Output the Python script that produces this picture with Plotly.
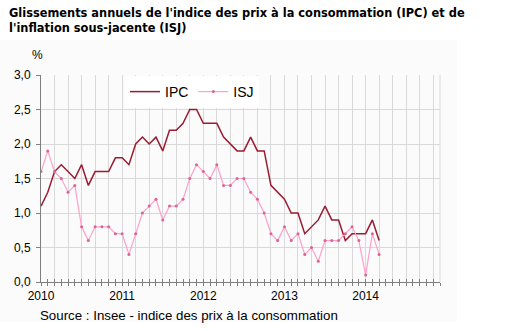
import plotly.graph_objects as go

# ---- data ----
months = [f"{y}-{m:02d}" for y in range(2010, 2015) for m in range(1, 13)]
year_labels = [m[:4] if m.endswith("-01") else "" for m in months]
y_ticks = [0, 0.5, 1.0, 1.5, 2.0, 2.5, 3.0]

ipc = [1.1, 1.3, 1.6, 1.7, 1.6, 1.5, 1.7, 1.4, 1.6, 1.6, 1.6, 1.8,
       1.8, 1.7, 2.0, 2.1, 2.0, 2.1, 1.9, 2.2, 2.2, 2.3, 2.5, 2.5,
       2.3, 2.3, 2.3, 2.1, 2.0, 1.9, 1.9, 2.1, 1.9, 1.9, 1.4, 1.3,
       1.2, 1.0, 1.0, 0.7, 0.8, 0.9, 1.1, 0.9, 0.9, 0.6, 0.7, 0.7,
       0.7, 0.9, 0.6]
isj = [1.6, 1.9, 1.6, 1.5, 1.3, 1.4, 0.8, 0.6, 0.8, 0.8, 0.8, 0.7,
       0.7, 0.4, 0.7, 1.0, 1.1, 1.2, 0.9, 1.1, 1.1, 1.2, 1.5, 1.7,
       1.6, 1.5, 1.7, 1.4, 1.4, 1.5, 1.5, 1.3, 1.2, 1.0, 0.7, 0.6,
       0.8, 0.6, 0.7, 0.4, 0.5, 0.3, 0.6, 0.6, 0.6, 0.7, 0.8, 0.6,
       0.1, 0.7, 0.4]

title = ("Glissements annuels de l'indice des prix à la consommation (IPC) et de"
         "<br>l'inflation sous-jacente (ISJ)")
source = "Source : Insee - indice des prix à la consommation"

W, H = 508, 331
L, R, T, B = 41, 68, 75, 49
PW, PH = W - L - R, H - T - B
n = len(months)


def px(x):
    return (x - L) / PW


def py(y):
    return (H - B - y) / PH


fig = go.Figure()
fig.add_trace(go.Scatter(x=months[:len(ipc)], y=ipc, name="IPC", mode="lines",
                         line=dict(color="#9B1B30", width=1.5)))
fig.add_trace(go.Scatter(x=months[:len(isj)], y=isj, name="ISJ", mode="lines+markers",
                         line=dict(color="#FF9FCB", width=1.2),
                         marker=dict(color="#D9668F", size=3)))
# overlay axis for the grid and inside ticks
fig.add_trace(go.Scatter(x=[0, n - 1], y=[None, None], xaxis="x2", showlegend=False,
                         hoverinfo="skip"))

grid = "#D9D9D9"
axc = "#7F7F7F"
fig.update_layout(
    width=W, height=H,
    margin=dict(l=L, r=R, t=T, b=B),
    paper_bgcolor="white", plot_bgcolor="rgba(0,0,0,0)",
    separators=", ",
    font=dict(family="Liberation Sans, Arial, sans-serif", size=12, color="#000000"),
    showlegend=True,
    legend=dict(orientation="h", x=px(192), xanchor="center", y=py(76), yanchor="top",
                bgcolor="white", font=dict(size=14), itemwidth=30,
                tracegroupgap=0),
    xaxis=dict(type="category", categoryorder="array", categoryarray=months,
               range=[0, n - 1], tickmode="array", tickvals=months, ticktext=year_labels,
               ticks="outside", ticklen=3, tickcolor=axc, showgrid=False,
               showline=True, linecolor=axc, linewidth=1, zeroline=False,
               tickfont=dict(size=12)),
    xaxis2=dict(overlaying="x", range=[0, n - 1], tickmode="linear", tick0=0, dtick=2,
                showgrid=True, gridcolor=grid, gridwidth=1, ticks="inside", ticklen=3,
                tickcolor=axc, showticklabels=False, zeroline=False, side="bottom",
                anchor="y",
                minor=dict(dtick=1, ticks="inside", ticklen=3, tickcolor=axc,
                           showgrid=False)),
    yaxis=dict(range=[0, 3], tickmode="array", tickvals=y_ticks, tickformat=".1f",
               showgrid=True, gridcolor=grid, gridwidth=1, ticks="outside", ticklen=4,
               tickcolor=axc, showline=True, linecolor=axc, linewidth=1, zeroline=False,
               tickfont=dict(size=12), ticklabelstandoff=3),
    shapes=[
        dict(type="rect", xref="paper", yref="paper", x0=px(0), x1=px(457),
             y0=py(322), y1=py(40), fillcolor="#FBFBFB",
             line=dict(width=0), layer="below"),
        dict(type="line", xref="paper", yref="paper", x0=1, x1=1, y0=0, y1=1,
             line=dict(color=grid, width=1), layer="below"),
    ],
    annotations=[
        dict(text=title, xref="paper", yref="paper", x=px(7), y=py(4),
             xanchor="left", yanchor="top", align="left", showarrow=False,
             font=dict(family="DejaVu Sans, Verdana, sans-serif", size=11.4,
                       color="#000000", weight="bold")),
        dict(text="%", xref="paper", yref="paper", x=px(37), y=py(55),
             xanchor="center", yanchor="middle", showarrow=False, font=dict(size=12)),
        dict(text=source, xref="paper", yref="paper", x=px(38),
             y=py(315), xanchor="left", yanchor="middle", showarrow=False,
             font=dict(size=13.3)),
    ],
)

fig.write_html("out.html")
